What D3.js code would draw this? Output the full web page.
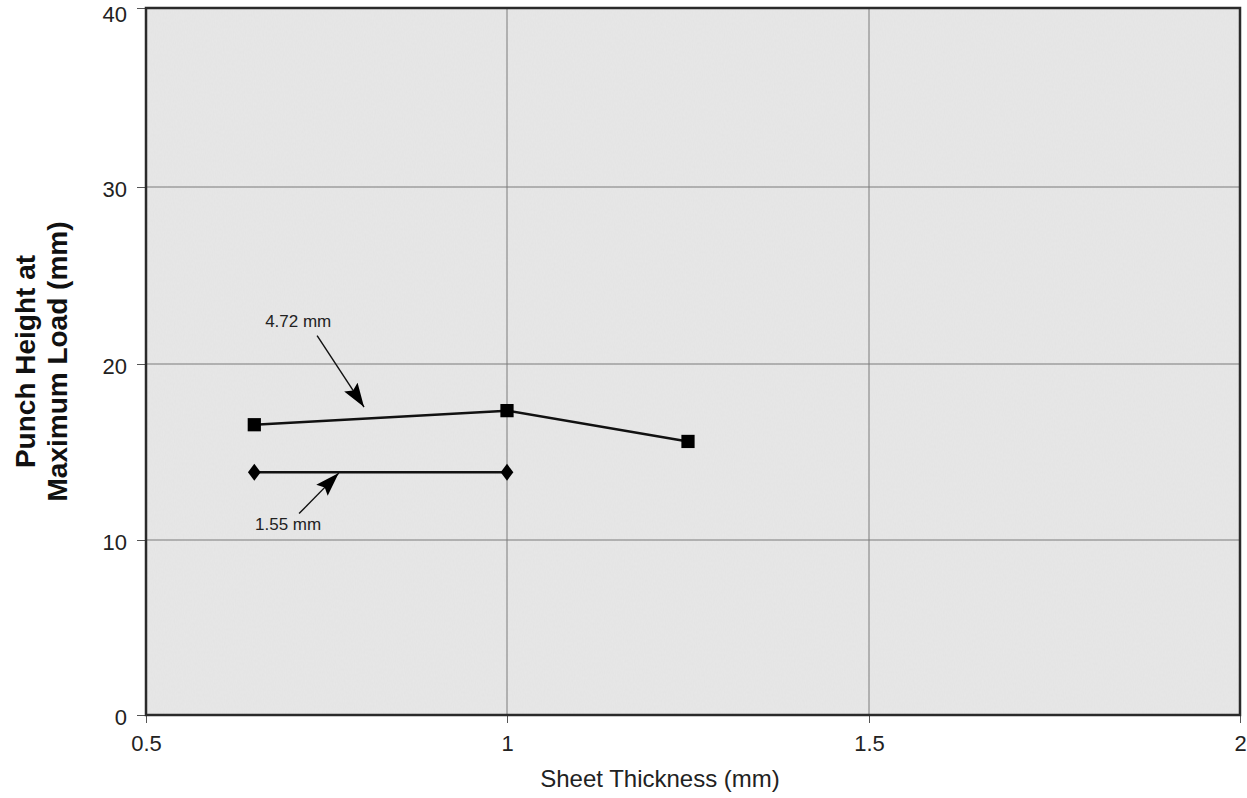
<!DOCTYPE html>
<html>
<head>
<meta charset="utf-8">
<script src="https://cdn.jsdelivr.net/npm/d3@7"></script>
<style>
  html, body { margin: 0; padding: 0; background: #ffffff; }
  svg { display: block; font-family: Arial, "Liberation Sans", Helvetica, sans-serif; }
</style>
</head>
<body>
<svg id="chart" width="1247" height="798"></svg>
<script>
// Punch height at maximum load vs. sheet thickness, two punch radii
const thickness472 = [0.65, 1.0, 1.25];
const height472 = [16.55, 17.35, 15.6];
const thickness155 = [0.65, 1.0];
const height155 = [13.85, 13.85];

const xTicks = [0.5, 1, 1.5, 2];
const yTicks = [0, 10, 20, 30, 40];

const xTitle = "Sheet Thickness (mm)";
const yTitleLines = ["Punch Height at", "Maximum Load (mm)"];

// Callout labels with their arrows (data coordinates)
const callouts = [
  { label: "4.72 mm", tx: 0.665, ty: 22.1, from: [0.737, 21.6], to: [0.802, 17.55] },
  { label: "1.55 mm", tx: 0.651, ty: 10.55, from: [0.712, 11.5], to: [0.767, 13.8] }
];

const svg = d3.select("#chart");

// Axis scales; breakpoints follow the printed gridlines
const x = d3.scaleLinear().domain([0.5, 1, 1.5, 2]).range([146, 507, 869, 1240]);
const y = d3.scaleLinear().domain([0, 10, 20, 30, 40]).range([715, 540, 364, 187, 8]);

const [x0, x1] = [x(0.5), x(2)];
const [y0, y1] = [y(0), y(40)];

// Grainy grey plot background
const defs = svg.append("defs");
const filt = defs.append("filter").attr("id", "grain").attr("x", 0).attr("y", 0).attr("width", 1).attr("height", 1);
filt.append("feTurbulence").attr("type", "fractalNoise").attr("baseFrequency", "0.9 0.35").attr("numOctaves", 1).attr("seed", 3).attr("result", "noise");
filt.append("feColorMatrix").attr("in", "noise").attr("type", "matrix")
  .attr("values", "0 0 0 0 0.84  0 0 0 0 0.84  0 0 0 0 0.84  0 0 0 0.5 0").attr("result", "tint");
filt.append("feComposite").attr("in", "tint").attr("in2", "SourceGraphic").attr("operator", "atop");

svg.append("rect")
  .attr("x", x0).attr("y", y1).attr("width", x1 - x0).attr("height", y0 - y1)
  .attr("fill", "#e3e3e3")
  .attr("filter", "url(#grain)");

// Gridlines
const grid = svg.append("g").attr("stroke", "#7a7a7a").attr("stroke-width", 1);
grid.selectAll("line.v").data(xTicks.slice(1, -1)).join("line")
  .attr("x1", d => x(d)).attr("x2", d => x(d)).attr("y1", y1).attr("y2", y0);
grid.selectAll("line.h").data(yTicks.slice(1, -1)).join("line")
  .attr("x1", x0).attr("x2", x1).attr("y1", d => y(d)).attr("y2", d => y(d));

// Axes
const xAxis = svg.append("g").attr("transform", `translate(0,${y0})`)
  .call(d3.axisBottom(x).tickValues(xTicks).tickFormat(d3.format("")).tickSize(8).tickSizeOuter(0));
const yAxis = svg.append("g").attr("transform", `translate(${x0},0)`)
  .call(d3.axisLeft(y).tickValues(yTicks).tickFormat(d3.format("")).tickSize(9).tickSizeOuter(0));

[xAxis, yAxis].forEach(g => {
  g.select(".domain").remove();
  g.selectAll(".tick line").attr("stroke", "#555").attr("stroke-width", 1);
  g.selectAll(".tick text").attr("fill", "#222").style("font-size", "22px").style("font-family", "Arial, 'Liberation Sans', sans-serif");
});
xAxis.selectAll(".tick text").attr("y", 20).attr("dy", "0.71em");
// keep the topmost label inside the page
yAxis.selectAll(".tick text").attr("x", -19).attr("dy", d => d === 40 ? "0.6em" : "0.45em");

// Plot frame
svg.append("rect")
  .attr("x", x0).attr("y", y1).attr("width", x1 - x0).attr("height", y0 - y1)
  .attr("fill", "none").attr("stroke", "#2a2a2a").attr("stroke-width", 2.5);

// Series lines
const line = d3.line().x(d => x(d[0])).y(d => y(d[1]));
const s472 = thickness472.map((t, i) => [t, height472[i]]);
const s155 = thickness155.map((t, i) => [t, height155[i]]);

svg.append("path").datum(s472).attr("d", line)
  .attr("fill", "none").attr("stroke", "#111").attr("stroke-width", 2.5);
svg.append("path").datum(s155).attr("d", line)
  .attr("fill", "none").attr("stroke", "#111").attr("stroke-width", 2.5);

// Markers
svg.selectAll("path.sq").data(s472).join("path")
  .attr("d", d3.symbol(d3.symbolSquare, 175))
  .attr("transform", d => `translate(${x(d[0])},${y(d[1])})`)
  .attr("fill", "#000");
svg.selectAll("path.dm").data(s155).join("path")
  .attr("d", d3.symbol(d3.symbolDiamond, 90))
  .attr("transform", d => `translate(${x(d[0])},${y(d[1])}) scale(1.25,0.95)`)
  .attr("fill", "#000");

// Callouts
defs.append("marker").attr("id", "arrow")
  .attr("viewBox", "0 0 24 16").attr("refX", 24).attr("refY", 8)
  .attr("markerUnits", "userSpaceOnUse")
  .attr("markerWidth", 24).attr("markerHeight", 16).attr("orient", "auto")
  .append("path").attr("d", "M0,0 L24,8 L0,16 L4,8 Z").attr("fill", "#000");

const co = svg.append("g");
co.selectAll("line").data(callouts).join("line")
  .attr("x1", d => x(d.from[0])).attr("y1", d => y(d.from[1]))
  .attr("x2", d => x(d.to[0])).attr("y2", d => y(d.to[1]))
  .attr("stroke", "#111").attr("stroke-width", 1.4)
  .attr("marker-end", "url(#arrow)");
co.selectAll("text").data(callouts).join("text")
  .attr("x", d => x(d.tx)).attr("y", d => y(d.ty))
  .attr("fill", "#222").style("font-size", "17px")
  .text(d => d.label);

// Axis titles
svg.append("text")
  .attr("x", 660).attr("y", 787)
  .attr("text-anchor", "middle").attr("fill", "#222").style("font-size", "24px")
  .text(xTitle);

const yt = svg.append("text")
  .attr("transform", `translate(35,${(y0 + y1) / 2}) rotate(-90)`)
  .attr("text-anchor", "middle").attr("fill", "#111")
  .style("font-size", "28px").style("font-weight", "bold");
yt.selectAll("tspan").data(yTitleLines).join("tspan")
  .attr("x", 0).attr("dy", (d, i) => i === 0 ? 0 : "1.13em")
  .text(d => d);
</script>
</body>
</html>
